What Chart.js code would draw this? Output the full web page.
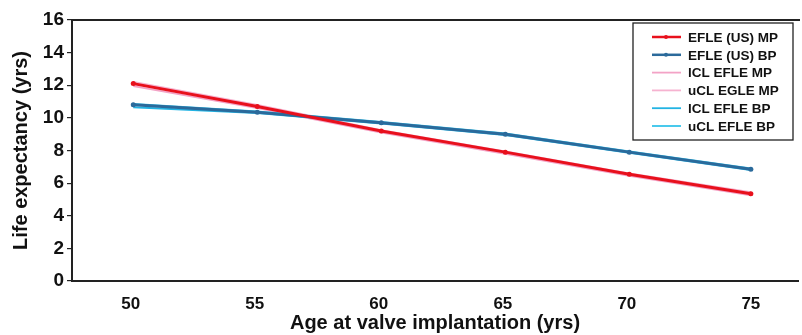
<!DOCTYPE html>
<html><head><meta charset="utf-8">
<script src="https://cdn.jsdelivr.net/npm/chart.js@4.4.0/dist/chart.umd.min.js"></script>
<style>html,body{margin:0;padding:0;background:#fff}#wrap{width:802px;height:335px}</style>
</head><body><div id="wrap"><canvas id="c" width="802" height="335"></canvas></div>
<script>
const ages = [50.1, 55.1, 60.1, 65.1, 70.1, 75];
const efleMP = [12.1, 10.7, 9.2, 7.9, 6.55, 5.35];
const efleBP = [10.8, 10.35, 9.7, 9.0, 7.9, 6.85];
const lclMP = [11.95, 10.6, 9.1, 7.8, 6.45, 5.25];
const uclMP = [12.2, 10.8, 9.25, 7.95, 6.6, 5.45];
const lclBP = [10.65, 10.3, 9.65, 8.95, 7.85, 6.8];
const uclBP = [10.85, 10.4, 9.75, 9.05, 7.95, 6.9];
const xTicks = [50, 55, 60, 65, 70, 75];
const yTicks = [0, 2, 4, 6, 8, 10, 12, 14, 16];
const labels = ['EFLE (US) MP', 'EFLE (US) BP', 'lCL EFLE MP', 'uCL EGLE MP', 'lCL EFLE BP', 'uCL EFLE BP'];

const pts = arr => arr.map((v, i) => ({x: ages[i], y: v}));
const FONT = '"Liberation Sans", Arial, sans-serif';

const legendPlugin = {
  id: 'boxLegend',
  afterDatasetsDraw(chart) {
    const ctx = chart.ctx;
    const a = chart.chartArea;
    ctx.save();
    ctx.strokeStyle = '#222'; ctx.lineWidth = 2;
    ctx.beginPath(); ctx.moveTo(a.left, a.top); ctx.lineTo(a.right + 2, a.top); ctx.stroke();
    const bx = 633, by = 23, bw = 160, bh = 117;
    ctx.fillStyle = '#fff'; ctx.fillRect(bx, by, bw, bh);
    ctx.strokeStyle = '#222'; ctx.lineWidth = 1.3; ctx.strokeRect(bx, by, bw, bh);
    ctx.font = 'bold 13.5px ' + FONT; ctx.textBaseline = 'middle'; ctx.textAlign = 'left';
    chart.data.datasets.forEach((ds, i) => {
      const y = by + 14 + i * 17.8;
      ctx.strokeStyle = ds.borderColor; ctx.lineWidth = ds.borderWidth > 2 ? 2.5 : 1.8;
      ctx.beginPath(); ctx.moveTo(652, y); ctx.lineTo(681, y); ctx.stroke();
      if (ds.pointRadius > 0) { ctx.fillStyle = ds.borderColor; ctx.beginPath(); ctx.arc(666, y, 2, 0, Math.PI * 2); ctx.fill(); }
      ctx.fillStyle = '#111'; ctx.fillText(ds.label, 688, y + 1);
    });
    ctx.restore();
  }
};

new Chart(document.getElementById('c'), {
  type: 'line',
  data: {
    datasets: [
      {label: labels[0], data: pts(efleMP), borderColor: '#e8101c', backgroundColor: '#e8101c', borderWidth: 3, pointRadius: 2.5, pointBorderWidth: 0, order: 1},
      {label: labels[1], data: pts(efleBP), borderColor: '#2b6a9b', backgroundColor: '#2b6a9b', borderWidth: 3, pointRadius: 2.5, pointBorderWidth: 0, order: 2},
      {label: labels[2], data: pts(lclMP), borderColor: '#f3a3c6', borderWidth: 1.8, pointRadius: 0, order: 5},
      {label: labels[3], data: pts(uclMP), borderColor: '#f6b3d0', borderWidth: 1.8, pointRadius: 0, order: 6},
      {label: labels[4], data: pts(lclBP), borderColor: '#22b3e3', borderWidth: 1.8, pointRadius: 0, order: 3},
      {label: labels[5], data: pts(uclBP), borderColor: '#35c3ea', borderWidth: 1.8, pointRadius: 0, order: 4}
    ]
  },
  options: {
    responsive: false, animation: false,
    layout: {padding: {top: 20, right: 2, left: 0, bottom: 0}},
    plugins: {legend: {display: false}, tooltip: {enabled: false}},
    scales: {
      x: {
        type: 'linear', min: 47.63, max: 76.9,
        afterBuildTicks: s => { s.ticks = xTicks.map(v => ({value: v})); },
        afterFit: s => { s.height = 54; },
        grid: {display: false},
        border: {display: true, color: '#222', width: 2},
        ticks: {color: '#111', font: {family: FONT, size: 17, weight: 'bold'}, padding: 5, maxRotation: 0},
        title: {display: true, text: 'Age at valve implantation (yrs)', color: '#111', font: {family: FONT, size: 20, weight: 'bold'}, padding: {top: 0, bottom: 0}}
      },
      y: {
        min: 0, max: 16,
        afterBuildTicks: s => { s.ticks = yTicks.map(v => ({value: v})); },
        afterFit: s => { s.width = 72; },
        grid: {drawOnChartArea: false, drawTicks: true, tickLength: 5, color: '#222', lineWidth: 1.2},
        border: {display: true, color: '#222', width: 2},
        ticks: {color: '#111', font: {family: FONT, size: 19, weight: 'bold'}, padding: 3},
        title: {display: true, text: 'Life expectancy (yrs)', color: '#111', font: {family: FONT, size: 20, weight: 'bold'}, padding: {top: 9, bottom: 0}}
      }
    }
  },
  plugins: [legendPlugin]
});
</script></body></html>
